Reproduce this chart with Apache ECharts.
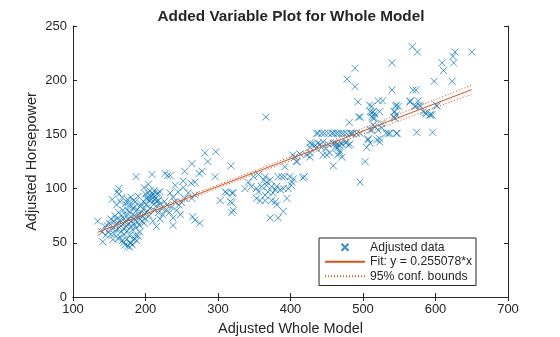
<!DOCTYPE html>
<html><head><meta charset="utf-8">
<script src="https://cdn.jsdelivr.net/npm/echarts@6/dist/echarts.min.js"></script>
<style>html,body{margin:0;padding:0;background:#fff}#c{width:560px;height:337px}</style>
</head><body><div id="c"></div>
<script>
var titleText = 'Added Variable Plot for Whole Model';
var xLabel = 'Adjusted Whole Model';
var yLabel = 'Adjusted Horsepower';
var xTicks = [100, 200, 300, 400, 500, 600, 700];
var yTicks = [0, 50, 100, 150, 200, 250];
var legendNames = ['Adjusted data', 'Fit: y = 0.255078*x', '95% conf. bounds'];

// adjusted data points [x, y]
var adjustedData = [
[134,70],[141,51],[144,65],[148,60],[155,53],[162,54],[172,48],[179,50],[183,53],[185,54],[154,90],[161,97],[163,100],[176,87],[183,89],[185,83],
[150,68],[152,72],[155,63],[156,70],[158,66],[158,75],[160,62],[160,72],[162,68],[163,78],[164,64],[165,71],[166,60],[167,75],[168,67],[169,80],[170,63],[170,72],[171,58],[172,69],[173,76],[174,65],[175,80],[175,61],[176,72],[177,68],[178,57],[179,78],[180,65],[180,74],[181,70],[182,62],[183,82],[184,67],[185,75],[186,71],[187,64],[188,80],[189,69],[190,76],[191,73],[192,66],[193,84],[194,78],[195,70],[196,74],[197,81],[198,68],[199,77],[200,72],[201,85],[203,79],[205,75],[206,82],
[165,55],[168,52],[170,50],[174,53],[176,47],[178,46],[180,50],[182,48],[186,57],[188,52],[190,56],[192,60],
[172,86],[175,90],[178,84],[180,92],[186,88],[190,93],[194,86],[199,87],[201,91],[203,96],[205,89],[207,93],[209,87],[211,95],[213,90],[215,88],[217,96],
[200,95],[203,92],[206,98],[208,90],[210,94],[212,98],[214,91],[216,95],[218,89],[220,97],[204,104],[198,101],
[140,60],[145,57],[147,66],[152,58],[157,58],[160,85],[165,88],[168,92],[163,95],
[187,111],[209,113],[227,114],[230,112],[234,112],[254,116],[278,116],[274,114],[282,133],[297,134],[286,125],[264,123],[318,121],[296,111],[268,106],[263,105],[252,107],[241,103],[252,101],
[234,96],[238,92],[245,97],[254,91],[250,87],[264,91],[268,94],[259,96],[310,97],[319,96],[303,89],[319,87],[319,78],
[224,76],[238,73],[238,66],[265,74],[268,71],[275,68],
[212,80],[215,84],[218,78],[220,86],[222,82],[226,88],[228,80],[230,85],[233,78],[236,83],[240,88],[243,80],[246,85],[248,76],[210,70],[215,65],[220,72],
[312,96],[321,96],[317,88],[321,80],
[349,111],[356,113],[365,111],[363,108],[367,106],[372,108],[383,111],[388,111],[392,111],[399,111],[404,109],[402,106],[342,106],[346,102],[337,100],[353,100],[360,102],[367,103],[374,102],[381,102],[386,99],[390,100],[397,100],[356,97],[369,97],[376,96],[379,99],[365,94],[353,91],[358,89],[365,89],[374,89],[379,88],[395,91],[381,85],[390,79],[372,73],[383,73],
[366,166],[392,120],[408,125],[427,129],[419,111],[417,110],[401,103],
[436,151],[438,151],[443,151],[447,151],[452,151],[457,151],[459,151],[463,151],[466,151],[470,151],[473,151],[477,151],[482,151],[484,151],[486,151],[491,151],[496,151],
[427,142],[430,141],[434,140],[438,142],[441,141],[445,143],[452,141],[459,142],[461,142],[464,141],[467,140],[470,142],[471,141],[476,142],[477,143],[480,140],[482,141],
[427,138],[435,137],[443,138],[449,137],[463,139],[468,135],[464,137],
[403,131],[406,129],[413,132],[422,131],[427,133],[445,131],[450,131],[454,133],[465,131],[468,133],[471,129],
[409,125],[459,121],[503,125],
[496,106],[494,166],[481,161],[512,170],[512,166],[514,159],[510,154],[507,145],[510,142],[505,138],[493,180],[496,166],[509,177],[512,176],[514,165],[516,169],[521,181],[527,181],[510,171],[514,171],[523,171],[516,165],[526,160],[516,157],[512,154],[521,154],[526,156],[535,151],[546,151],[507,146],[523,146],[519,145],[523,143],[532,151],[537,151],[540,191],[540,216],[489,211],[478,201],[489,194],[546,177],[544,171],[542,166],[544,165],[545,176],[543,171],[549,176],[546,168],
[568,231],[575,226],[627,226],[650,226],[624,222],[625,216],[609,216],[611,209],[598,199],[623,199],[569,191],[573,191],[565,181],[576,181],[573,176],[579,176],[583,171],[586,170],[592,168],[602,176],[574,152],[596,152],[565,180],[571,176],[601,177],[547,151],[595,168],[587,169],[578,177],[593,168]
];

// fit line y = slope*x + offset (adjusted coordinates)
var fitSlope = 0.255078;
var fitOffset = 25.5;
var fitXRange = [134, 650];

// confidence bounds read at x positions
var boundX = [134, 175, 225, 275, 325, 375, 425, 475, 525, 575, 650];
var boundHalf = [2.6, 2.2, 1.8, 1.55, 1.5, 1.65, 2.0, 2.45, 2.95, 3.4, 4.2];

var fitData = fitXRange.map(function (x) { return [x, fitSlope * x + fitOffset]; });
var upperData = boundX.map(function (x, i) { return [x, fitSlope * x + fitOffset + boundHalf[i]]; });
var lowerData = boundX.map(function (x, i) { return [x, fitSlope * x + fitOffset - boundHalf[i]]; });

var blue = '#0072BD', orange = '#D95319', ink = '#262626';
var font = 'Liberation Sans, Arial, Helvetica, sans-serif';
var xPath = 'path://M0,0L10,10M10,0L0,10';

var chart = echarts.init(document.getElementById('c'), null, {renderer: 'canvas'});
var axisCommon = {
  axisLine: {show: true, lineStyle: {color: ink, width: 1}},
  axisTick: {show: true, inside: true, length: 4, lineStyle: {color: ink}},
  splitLine: {show: false}
};
chart.setOption({
  animation: false,
  backgroundColor: '#fff',
  title: {text: titleText, left: 286, top: 4, textAlign: 'center',
    textStyle: {fontFamily: font, fontSize: 15.3, fontWeight: 'bold', color: ink}},
  grid: {left: 73, right: 52, top: 26, bottom: 40, containLabel: false, outerBoundsMode: 'none'},
  xAxis: [
    Object.assign({type: 'value', min: 100, max: 700, interval: 100, position: 'bottom',
      name: xLabel, nameLocation: 'middle', nameGap: 24,
      nameTextStyle: {fontFamily: font, fontSize: 14.5, color: ink},
      axisLabel: {fontFamily: font, fontSize: 13, color: ink, margin: 6,
        formatter: function (v) { return xTicks.indexOf(v) >= 0 ? String(v) : ''; }}}, axisCommon),
    Object.assign({type: 'value', min: 100, max: 700, interval: 100, position: 'top',
      axisLabel: {show: false}}, axisCommon)
  ],
  yAxis: [
    Object.assign({type: 'value', min: 0, max: 250, interval: 50, position: 'left',
      name: yLabel, nameLocation: 'middle', nameGap: 34, nameRotate: 90, nameMoveOverlap: false,
      nameTextStyle: {fontFamily: font, fontSize: 14.5, color: ink},
      axisLabel: {fontFamily: font, fontSize: 13, color: ink, margin: 6,
        formatter: function (v) { return yTicks.indexOf(v) >= 0 ? String(v) : ''; }}}, axisCommon),
    Object.assign({type: 'value', min: 0, max: 250, interval: 50, position: 'right',
      axisLabel: {show: false}}, axisCommon)
  ],
  legend: {
    right: 84, bottom: 51.5, orient: 'vertical', itemGap: 0, itemWidth: 40, itemHeight: 7,
    padding: [2, 4, 2, 5], borderColor: ink, borderWidth: 1, backgroundColor: '#fff',
    borderRadius: 0,
    textStyle: {fontFamily: font, fontSize: 12.2, color: ink, lineHeight: 14.5},
    data: [
      {name: legendNames[0], icon: xPath},
      {name: legendNames[1]},
      {name: legendNames[2]}
    ]
  },
  series: [
    {name: legendNames[0], type: 'scatter', data: adjustedData, symbol: xPath, symbolSize: 7,
      itemStyle: {color: 'rgba(0,0,0,0)', borderColor: blue, borderWidth: 0.9}, z: 2},
    {name: legendNames[1], type: 'line', data: fitData, symbol: 'none', showSymbol: false,
      lineStyle: {color: orange, width: 1}, itemStyle: {color: 'rgba(0,0,0,0)', borderWidth: 0}, z: 3},
    {name: legendNames[2], type: 'line', data: upperData, symbol: 'none', showSymbol: false, smooth: true,
      lineStyle: {color: orange, width: 1, type: [1, 2]}, itemStyle: {color: 'rgba(0,0,0,0)', borderWidth: 0}, z: 3},
    {name: legendNames[2], type: 'line', data: lowerData, symbol: 'none', showSymbol: false, smooth: true,
      lineStyle: {color: orange, width: 1, type: [1, 2]}, itemStyle: {color: 'rgba(0,0,0,0)', borderWidth: 0}, z: 3}
  ]
});
</script></body></html>
